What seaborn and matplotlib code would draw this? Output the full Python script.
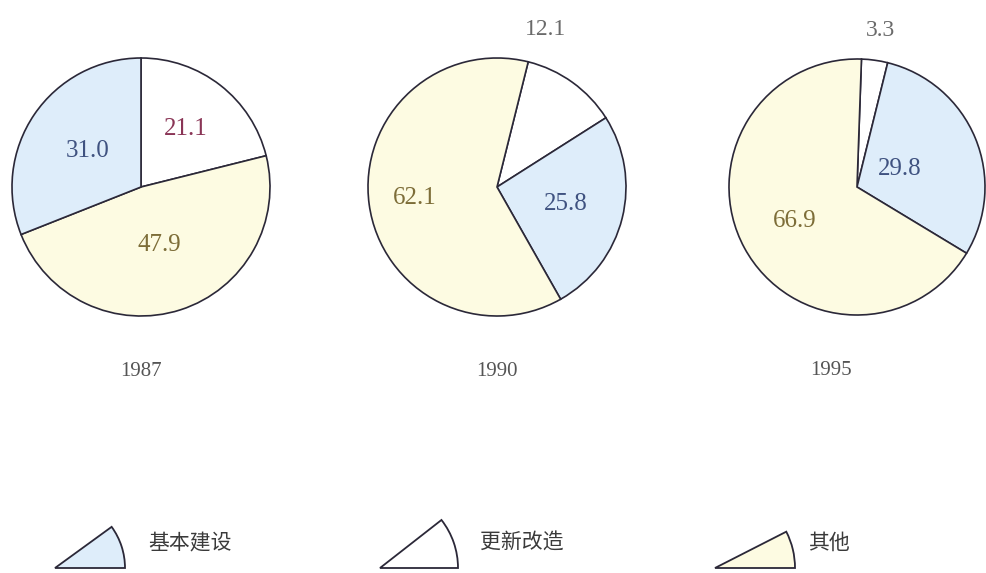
import numpy as np
import matplotlib
matplotlib.use("Agg")
import matplotlib.pyplot as plt
from matplotlib.patches import Wedge
import seaborn as sns

# data
years = ["1987", "1990", "1995"]
categories = ["基本建设", "更新改造", "其他"]
basic = [31.0, 25.8, 29.8]
renewal = [21.1, 12.1, 3.3]
other = [47.9, 62.1, 66.9]

sns.set_style("white")
plt.rcParams["font.family"] = ["Liberation Serif", "Noto Sans CJK SC", "DejaVu Sans"]

W, H = 987, 573
fills = {"基本建设": "#deedfa", "更新改造": "#ffffff", "其他": "#fdfbe2"}
text_colors = {"基本建设": "#3f5280", "更新改造": "#8a3556", "其他": "#7d6d38"}
edge = "#2b2838"

# layout per pie (pixels): centre x, centre y, radius, start angle, wedge order
pies = [
    dict(cx=141, cy=187, r=129, start=90, order=["更新改造", "其他", "基本建设"],
         dist={"基本建设": 0.5, "更新改造": 0.57, "其他": 0.47}),
    dict(cx=497, cy=187, r=129, start=76, order=["更新改造", "基本建设", "其他"],
         dist={"基本建设": 0.55, "其他": 0.64}, outside=(0.38, 1.22)),
    dict(cx=857, cy=187, r=128, start=88, order=["更新改造", "基本建设", "其他"],
         dist={"基本建设": 0.36, "其他": 0.55}, outside=(0.18, 1.22)),
]
year_x = [0.0, 0.0, -0.2]

fig = plt.figure(figsize=(W / 100, H / 100), dpi=100)

# legend overlay in pixel coordinates
lax = fig.add_axes([0, 0, 1, 1])
lax.set_xlim(0, W)
lax.set_ylim(0, H)
lax.axis("off")
legend_icons = [(55, 70, 36, 148), (380, 78, 38, 480), (715, 80, 27, 808)]
for cat, (x0, rad, ang, tx) in zip(categories, legend_icons):
    lax.add_patch(Wedge((x0, H - 568), rad, 0, ang, facecolor=fills[cat],
                        edgecolor=edge, lw=1.3))
    lax.text(tx, H - 543, cat, fontsize=15, va="center", ha="left", color="#3a3a3a",
             family=["Noto Sans CJK SC"], fontweight="light")

values = {"基本建设": basic, "更新改造": renewal, "其他": other}
for i, (year, p) in enumerate(zip(years, pies)):
    r = p["r"]
    ax = fig.add_axes([(p["cx"] - r) / W, (H - p["cy"] - r) / H, 2 * r / W, 2 * r / H])
    vals = [values[c][i] for c in p["order"]]
    wedges, _ = ax.pie(vals, startangle=p["start"], counterclock=False, radius=1,
                       colors=[fills[c] for c in p["order"]],
                       wedgeprops=dict(edgecolor=edge, linewidth=1.2))
    ax.set_xlim(-1, 1)
    ax.set_ylim(-1, 1)
    ax.axis("off")
    for w, c, v in zip(wedges, p["order"], vals):
        if c in p["dist"]:
            mid = np.deg2rad((w.theta1 + w.theta2) / 2)
            d = p["dist"][c]
            ax.text(d * np.cos(mid), d * np.sin(mid), f"{v:.1f}", fontsize=18,
                    ha="center", va="center", color=text_colors[c])
        else:
            ox, oy = p["outside"]
            ax.text(ox, oy, f"{v:.1f}", fontsize=17, ha="center", va="center",
                    color="#6a6a6a")
    ax.text(year_x[i], -1.43, year, fontsize=15, ha="center", va="center", color="#555555")

fig.savefig("out.png", dpi=100)
